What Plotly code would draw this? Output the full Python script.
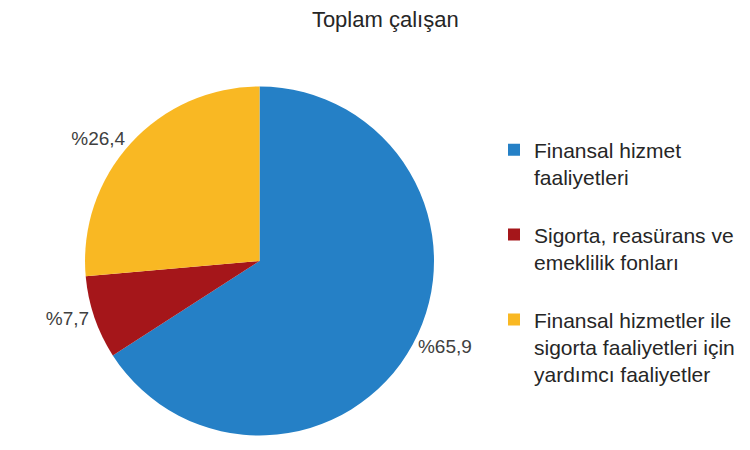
import plotly.graph_objects as go

# sector shares of total employees (%)
labels = [
    "Finansal hizmet<br>faaliyetleri<br> ",
    "Sigorta, reasürans ve<br>emeklilik fonları<br> ",
    "Finansal hizmetler ile<br>sigorta faaliyetleri için<br>yardımcı faaliyetler",
]
values = [65.9, 7.7, 26.4]
value_text = ["%65,9", "%7,7", "%26,4"]
colors = ["#2580C6", "#A5161A", "#F9B823"]

FONT = "Liberation Sans, Arial, sans-serif"

fig = go.Figure(
    go.Pie(
        labels=labels,
        values=values,
        text=value_text,
        textinfo="text",
        textposition="outside",
        sort=False,
        direction="clockwise",
        rotation=0,
        marker=dict(colors=colors, line=dict(width=0)),
        outsidetextfont=dict(family=FONT, size=19, color="#404040"),
        domain=dict(x=[0.1027, 0.5680], y=[0.0500, 0.8256]),
        hoverinfo="label+text",
    )
)

fig.update_layout(
    width=750,
    height=450,
    margin=dict(l=0, r=0, t=0, b=0, autoexpand=False),
    paper_bgcolor="white",
    title=dict(
        text="Toplam çalışan",
        x=0.503,
        xanchor="center",
        y=0.992,
        yanchor="top",
        font=dict(family=FONT, size=22, color="#262626"),
    ),
    legend=dict(
        x=0.648,
        xanchor="left",
        y=0.73,
        yanchor="top",
        valign="top",
        bgcolor="rgba(0,0,0,0)",
        font=dict(family=FONT, size=21, color="#262626"),
        itemsizing="constant",
    ),
    showlegend=True,
)

fig.write_html("out.html")
